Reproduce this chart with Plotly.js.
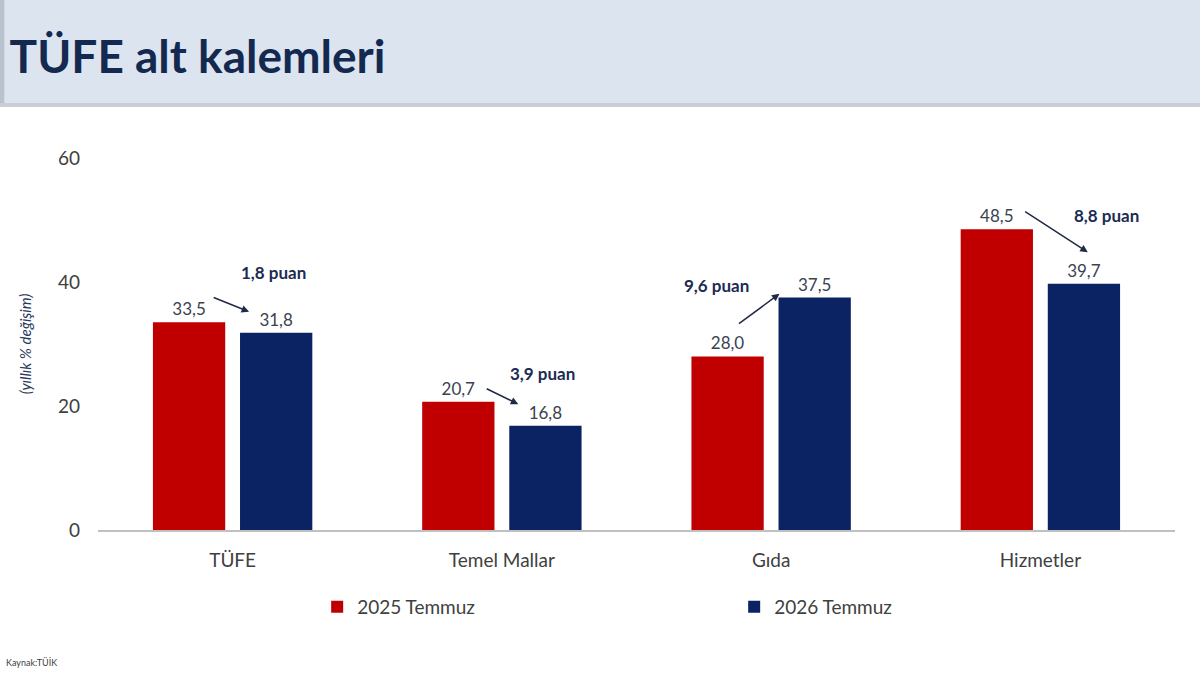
<!DOCTYPE html>
<html>
<head>
<meta charset="utf-8">
<script src="https://cdn.plot.ly/plotly-3.0.1.min.js"></script>
<style>
  html, body { margin: 0; padding: 0; background: #ffffff; }
  #chart { width: 1200px; height: 675px; }
</style>
</head>
<body>
<div id="chart"></div>
<script>
// categories and series
var categories = ['TÜFE', 'Temel Mallar', 'Gıda', 'Hizmetler'];
var temmuz2025 = [33.5, 20.7, 28.0, 48.5];
var temmuz2026 = [31.8, 16.8, 37.5, 39.7];
var puanLabels = ['1,8 puan', '3,9 puan', '9,6 puan', '8,8 puan'];
var yTicks = [0, 20, 40, 60];

var positions = categories.map(function (c, i) { return i; });

// where the "puan" notes and arrows go (data coords)
var puanPos = [[0.15, 41.5], [1.15, 25.3], [1.797, 39.5], [3.247, 50.8]];
var arrowPos = [
	[[-0.076, 37.6], [0.061, 35.2]],
	[[0.938, 22.9], [1.061, 20.3]],
	[[1.875, 33.1], [2.031, 38.1]],
	[[2.938, 51.5], [3.176, 44.8]]
];

var fontFamily = 'Lato, "Open Sans", sans-serif';

var bars2025 = {
	x: positions,
	y: temmuz2025,
	type: 'bar',
	name: '2025 Temmuz',
	marker: { color: '#c00000' },
	texttemplate: '%{y:.1f}',
	textposition: 'outside',
	textfont: { size: 17, color: '#3b4250' },
	cliponaxis: false,
	hoverinfo: 'skip'
};

var bars2026 = {
	x: positions,
	y: temmuz2026,
	type: 'bar',
	name: '2026 Temmuz',
	marker: { color: '#0b2263' },
	texttemplate: '%{y:.1f}',
	textposition: 'outside',
	textfont: { size: 17, color: '#3b4250' },
	cliponaxis: false,
	hoverinfo: 'skip'
};

var annotations = [];

puanLabels.forEach(function (txt, i) {
	annotations.push({
		x: puanPos[i][0],
		y: puanPos[i][1],
		xref: 'x',
		yref: 'y',
		text: '<b>' + txt + '</b>',
		showarrow: false,
		font: { family: fontFamily, size: 17, color: '#1b2b52' }
	});
	annotations.push({
		x: arrowPos[i][1][0],
		y: arrowPos[i][1][1],
		ax: arrowPos[i][0][0],
		ay: arrowPos[i][0][1],
		xref: 'x',
		yref: 'y',
		axref: 'x',
		ayref: 'y',
		text: '',
		showarrow: true,
		arrowhead: 2,
		arrowsize: 1,
		arrowwidth: 1.5,
		arrowcolor: '#1f2a44'
	});
});

// source note
annotations.push({
	xref: 'paper',
	yref: 'paper',
	x: -0.087,
	y: -0.357,
	xanchor: 'left',
	yanchor: 'middle',
	text: 'Kaynak:TÜİK',
	showarrow: false,
	font: { family: fontFamily, size: 9, color: '#404040' }
});

var layout = {
	width: 1200,
	height: 675,
	separators: ', ',
	barmode: 'group',
	bargap: 0.353,
	bargroupgap: 0.17,
	showlegend: true,
	paper_bgcolor: '#ffffff',
	plot_bgcolor: '#ffffff',
	hovermode: false,
	margin: { l: 98, r: 25, t: 158, b: 145, autoexpand: false },
	font: { family: fontFamily, size: 17, color: '#404040' },
	title: {
		text: '<b>TÜFE alt kalemleri</b>',
		xref: 'container',
		yref: 'container',
		x: 0.008,
		xanchor: 'left',
		y: 0.915,
		yanchor: 'middle',
		font: { family: fontFamily, size: 46, color: '#13294f' }
	},
	xaxis: {
		range: [-0.5, 3.5],
		tickvals: positions,
		ticktext: categories,
		showgrid: false,
		zeroline: false,
		showline: true,
		linecolor: '#c0c0c0',
		linewidth: 1.5,
		ticks: '',
		ticklabelstandoff: 13,
		tickfont: { size: 19, color: '#404040' },
		fixedrange: true
	},
	yaxis: {
		range: [0, 60],
		tickvals: yTicks,
		showgrid: false,
		zeroline: false,
		showline: false,
		ticks: '',
		ticklabelstandoff: 17,
		tickfont: { size: 19, color: '#404040' },
		title: {
			text: '<i>(yıllık % değişim)</i>',
			standoff: 22,
			font: { size: 15, color: '#2a3a5c' }
		},
		fixedrange: true
	},
	legend: {
		orientation: 'h',
		x: 0.2035,
		xanchor: 'left',
		y: -0.207,
		yanchor: 'middle',
		entrywidth: 372,
		entrywidthmode: 'pixels',
		font: { size: 19, color: '#404040' },
		bgcolor: 'rgba(0,0,0,0)'
	},
	shapes: [
		// header band
		{
			type: 'rect', xref: 'paper', yref: 'paper',
			x0: -0.1, x1: 1.05, y0: 1.1478, y1: 1.45,
			fillcolor: '#dce4ef', line: { width: 0 }, layer: 'below'
		},
		// shadow under the header
		{
			type: 'rect', xref: 'paper', yref: 'paper',
			x0: -0.1, x1: 1.05, y0: 1.137, y1: 1.1478,
			fillcolor: '#c9ced6', line: { width: 0 }, layer: 'below'
		},
		{
			type: 'rect', xref: 'paper', yref: 'paper',
			x0: -0.1, x1: -0.087, y0: 1.1478, y1: 1.45,
			fillcolor: '#b9c2cf', line: { width: 0 }, layer: 'below'
		}
	],
	annotations: annotations
};

Plotly.newPlot('chart', [bars2025, bars2026], layout, { displayModeBar: false, staticPlot: true });
</script>
</body>
</html>
